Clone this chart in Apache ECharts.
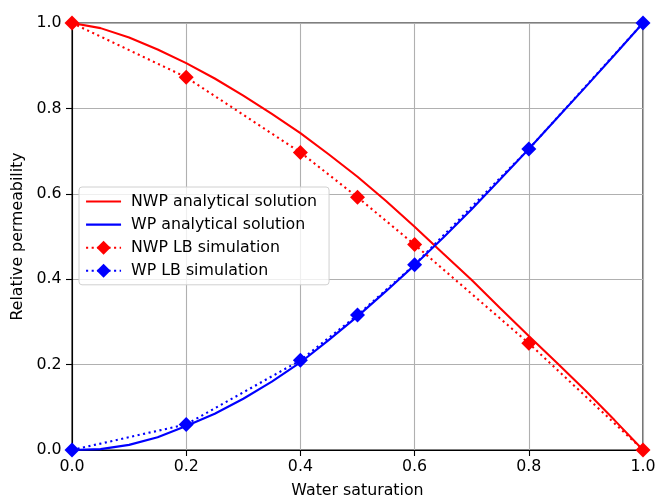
<!DOCTYPE html>
<html>
<head>
<meta charset="utf-8">
<script src="https://cdn.jsdelivr.net/npm/echarts@6/dist/echarts.min.js"></script>
<style>
  html, body { margin: 0; padding: 0; background: #fff; }
  #chart { width: 657px; height: 498px; }
</style>
</head>
<body>
<div id="chart"></div>
<script>
// analytical curves, sampled every 0.05
var satAnalytical = [0, 0.05, 0.1, 0.15, 0.2, 0.25, 0.3, 0.35, 0.4, 0.45, 0.5,
                     0.55, 0.6, 0.65, 0.7, 0.75, 0.8, 0.85, 0.9, 0.95, 1.0];
var nwpAnalytical = [1.0, 0.988, 0.966, 0.938, 0.906, 0.870, 0.830, 0.787, 0.742, 0.692, 0.640,
                     0.583, 0.523, 0.460, 0.398, 0.332, 0.267, 0.203, 0.138, 0.070, 0.0];
var wpAnalytical = [0.0, 0.002, 0.012, 0.030, 0.056, 0.085, 0.120, 0.160, 0.205, 0.258, 0.313,
                    0.372, 0.433, 0.497, 0.564, 0.634, 0.705, 0.778, 0.851, 0.925, 1.0];
// LB simulation points
var satLB = [0, 0.2, 0.4, 0.5, 0.6, 0.8, 1.0];
var nwpLB = [1.0, 0.873, 0.697, 0.592, 0.481, 0.250, 0.0];
var wpLB = [0.0, 0.060, 0.210, 0.316, 0.434, 0.705, 1.0];

function pairs(xs, ys) {
    return xs.map(function (x, i) { return [x, ys[i]]; });
}

var font = 'DejaVu Sans';
var fs = 15.8;
var dotted = [2.1, 3.5];
var noSymbol = { color: 'rgba(0,0,0,0)', borderWidth: 0 };

var myChart = echarts.init(document.getElementById('chart'));
myChart.setOption({
    animation: false,
    textStyle: { fontFamily: font },
    grid: {
        left: 72, right: 14, top: 23, bottom: 48,
        outerBoundsMode: 'none', containLabel: false,
        show: true, borderColor: '#000', borderWidth: 1.1
    },
    legend: {
        left: 79, top: 187,
        orient: 'vertical',
        itemWidth: 35, itemHeight: 17.5, itemGap: 5.8 + 1.3,
        padding: [6.5, 12, 6, 6],
        backgroundColor: 'rgba(255,255,255,0.8)',
        borderColor: '#d0d0d0', borderWidth: 1, borderRadius: 3,
        lineStyle: { width: 2.1 },
        textStyle: { fontFamily: font, fontSize: fs, color: '#000', padding: [0, 0, 0, 5] },
        data: [
            { name: 'NWP analytical solution', itemStyle: noSymbol },
            { name: 'WP analytical solution', itemStyle: noSymbol },
            'NWP LB simulation',
            'WP LB simulation'
        ]
    },
    xAxis: {
        type: 'value', min: 0, max: 1, interval: 0.2,
        name: 'Water saturation', nameLocation: 'middle', nameGap: 33,
        nameTextStyle: { fontFamily: font, fontSize: fs, color: '#000' },
        axisLine: { show: true, onZero: false, lineStyle: { color: '#000', width: 1.1 } },
        axisTick: { show: true, length: 6, lineStyle: { color: '#000', width: 1.1 } },
        axisLabel: { margin: 9, fontFamily: font, fontSize: fs, color: '#000',
                     formatter: function (v) { return v.toFixed(1); } },
        splitLine: { show: true, lineStyle: { color: '#b0b0b0', width: 1.1 } }
    },
    yAxis: {
        type: 'value', min: 0, max: 1, interval: 0.2,
        name: 'Relative permeability', nameLocation: 'middle', nameGap: 42,
        nameTextStyle: { fontFamily: font, fontSize: fs, color: '#000' },
        axisLine: { show: true, onZero: false, lineStyle: { color: '#000', width: 1.1 } },
        axisTick: { show: true, length: 6, lineStyle: { color: '#000', width: 1.1 } },
        axisLabel: { margin: 10.5, fontFamily: font, fontSize: fs, color: '#000',
                     formatter: function (v) { return v.toFixed(1); } },
        splitLine: { show: true, lineStyle: { color: '#b0b0b0', width: 1.1 } }
    },
    series: [
        {
            name: 'NWP analytical solution', type: 'line',
            data: pairs(satAnalytical, nwpAnalytical),
            showSymbol: false, symbol: 'none', color: '#ff0000',
            lineStyle: { color: '#ff0000', width: 2.1 }
        },
        {
            name: 'WP analytical solution', type: 'line',
            data: pairs(satAnalytical, wpAnalytical),
            showSymbol: false, symbol: 'none', color: '#0000ff',
            lineStyle: { color: '#0000ff', width: 2.1 }
        },
        {
            name: 'NWP LB simulation', type: 'line',
            data: pairs(satLB, nwpLB),
            symbol: 'diamond', symbolSize: 15, color: '#ff0000',
            itemStyle: { color: '#ff0000' },
            lineStyle: { color: '#ff0000', width: 2.1, type: dotted }
        },
        {
            name: 'WP LB simulation', type: 'line',
            data: pairs(satLB, wpLB),
            symbol: 'diamond', symbolSize: 15, color: '#0000ff',
            itemStyle: { color: '#0000ff' },
            lineStyle: { color: '#0000ff', width: 2.1, type: dotted }
        }
    ]
});
</script>
</body>
</html>
